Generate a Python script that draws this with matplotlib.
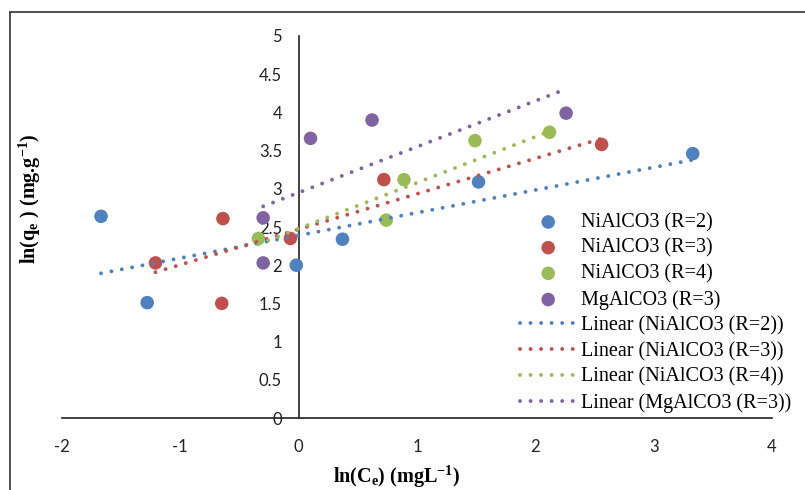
import matplotlib
matplotlib.use("Agg")
import matplotlib.pyplot as plt
from matplotlib.lines import Line2D
import numpy as np

# Freundlich isotherm data: ln(Ce) vs ln(qe)
series_names = ["NiAlCO3 (R=2)", "NiAlCO3 (R=3)", "NiAlCO3 (R=4)", "MgAlCO3 (R=3)"]
colors = ["#4F81BD", "#C0504D", "#9BBB59", "#8064A2"]

ni2_x = [-1.67, -1.28, -0.02, 0.37, 1.52, 3.33]
ni2_y = [2.64, 1.51, 2.00, 2.34, 3.09, 3.46]
ni3_x = [-1.21, -0.64, -0.65, -0.07, 0.72, 2.56]
ni3_y = [2.03, 2.61, 1.50, 2.35, 3.12, 3.58]
ni4_x = [-0.34, 0.74, 0.89, 1.49, 2.12]
ni4_y = [2.35, 2.59, 3.12, 3.63, 3.74]
mg3_x = [-0.30, -0.30, 0.10, 0.62, 2.26]
mg3_y = [2.62, 2.03, 3.66, 3.90, 3.99]

# linear trendlines (slope, intercept)
trend_slope = [0.297, 0.464, 0.600, 0.600]
trend_intercept = [2.39, 2.47, 2.48, 2.95]

x_ticks = [-2, -1, 0, 1, 2, 3, 4]
y_ticks = [0, 0.5, 1, 1.5, 2, 2.5, 3, 3.5, 4, 4.5, 5]

plt.rcParams["mathtext.fontset"] = "custom"
plt.rcParams["mathtext.rm"] = "Liberation Serif"
plt.rcParams["mathtext.bf"] = "Liberation Serif:bold"
plt.rcParams["mathtext.it"] = "Liberation Serif:italic"

W, H = 805, 490
fig = plt.figure(figsize=(W / 100, H / 100), dpi=100)
ax = fig.add_axes([62 / W, 1 - 418 / H, (772 - 62) / W, (418 - 36) / H])

xs = [ni2_x, ni3_x, ni4_x, mg3_x]
ys = [ni2_y, ni3_y, ni4_y, mg3_y]

point_handles = []
line_handles = []
for i in range(4):
    h = ax.scatter(xs[i], ys[i], s=95, color=colors[i], zorder=3,
                   edgecolors="none", label=series_names[i])
    point_handles.append(h)

for i in range(4):
    xx = np.array([min(xs[i]), max(xs[i])])
    yy = trend_slope[i] * xx + trend_intercept[i]
    ln, = ax.plot(xx, yy, color=colors[i], lw=2.8,
                  linestyle=(0, (0.01, 2.7)), dash_capstyle="round", zorder=4,
                  label="Linear (" + series_names[i] + ")")
    line_handles.append(ln)

ax.set_xlim(-2, 4)
ax.set_ylim(0, 5)
ax.set_xticks(x_ticks)
ax.set_yticks(y_ticks)
ax.set_xticklabels([f"{t:g}" for t in x_ticks])
ax.set_yticklabels([f"{t:g}" for t in y_ticks])

for s in ["top", "right"]:
    ax.spines[s].set_visible(False)
ax.spines["left"].set_position(("data", 0))
for s in ["left", "bottom"]:
    ax.spines[s].set_color("#222222")
    ax.spines[s].set_linewidth(1.2)

ax.tick_params(axis="both", length=0, labelsize=12, colors="#222222")
ax.tick_params(axis="x", pad=15)
ax.tick_params(axis="y", pad=12)
for lab in ax.get_xticklabels() + ax.get_yticklabels():
    lab.set_family("Lato")

ax.patch.set_alpha(0)

leg = ax.legend(handles=point_handles + line_handles, loc="upper left",
                bbox_to_anchor=(520 / W, 1 - 213 / H), bbox_transform=fig.transFigure,
                frameon=False, prop={"family": "Liberation Serif", "size": 14.5},
                handlelength=2.8, handletextpad=0.25, labelspacing=0.32,
                borderaxespad=0, borderpad=0)

fig.text(397 / W, 1 - 477 / H, r"ln(C$_{\mathbf{e}}$) (mgL$^{\mathbf{-1}}$)",
         ha="center", va="center", fontsize=14.5, fontweight="bold",
         family="Liberation Serif")
fig.text(30 / W, 1 - 199 / H, r"ln(q$_{\mathbf{e}}$ ) (mg.g$^{\mathbf{-1}}$)",
         ha="center", va="center", fontsize=14.5, fontweight="bold",
         family="Liberation Serif", rotation=90)

# outer frame (left and top edges)
fig.add_artist(Line2D([10 / W, 10 / W], [0, 1 - 12 / H], transform=fig.transFigure,
                      color="#404040", lw=1.3))
fig.add_artist(Line2D([10 / W, 1], [1 - 12 / H, 1 - 12 / H], transform=fig.transFigure,
                      color="#404040", lw=1.3))

fig.savefig("out.png", dpi=100)
